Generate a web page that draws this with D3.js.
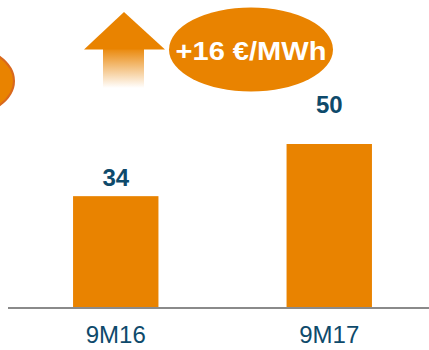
<!DOCTYPE html>
<html>
<head>
<meta charset="utf-8">
<script src="https://cdn.jsdelivr.net/npm/d3@7"></script>
<style>
  html, body { margin: 0; padding: 0; background: #fff; }
  svg { display: block; }
  text { font-family: Arial, "Liberation Sans", sans-serif; }
</style>
</head>
<body>
<svg id="chart" width="429" height="350"></svg>
<script>
// Average price per period (€/MWh)
const categories = ["9M16", "9M17"];
const values = [34, 50];
const deltaLabel = "+16 €/MWh";

const orange = "#e98300";
const navy = "#0e4a6b";

const svg = d3.select("#chart");

const x = d3.scaleBand()
  .domain(categories)
  .range([9, 436])
  .paddingInner(0.6)
  .paddingOuter(0.3);

const y = d3.scaleLinear()
  .domain([0, 50])
  .range([307, 144]);

// Bars
svg.append("g")
  .selectAll("rect")
  .data(values)
  .join("rect")
  .attr("x", (d, i) => x(categories[i]))
  .attr("width", x.bandwidth())
  .attr("y", d => y(d))
  .attr("height", d => y(0) - y(d))
  .attr("fill", orange);

// Baseline axis with category labels
const axis = svg.append("g")
  .attr("transform", `translate(0,${y(0) + 1})`)
  .call(d3.axisBottom(x).tickSize(0).tickSizeOuter(0).tickPadding(18));
axis.select(".domain").remove();
axis.insert("line", ":first-child")
  .attr("x1", 8).attr("x2", 429)
  .attr("stroke", "#8a8a8a").attr("stroke-width", 2);
axis.selectAll(".tick text")
  .attr("fill", navy)
  .style("font-size", "24px")
  .style("font-family", "Arial, 'Liberation Sans', sans-serif");

// Value labels above bars
const labelGap = [10, 31];
svg.append("g")
  .selectAll("text")
  .data(values)
  .join("text")
  .attr("x", (d, i) => x(categories[i]) + x.bandwidth() / 2)
  .attr("y", (d, i) => y(d) - labelGap[i])
  .attr("text-anchor", "middle")
  .attr("fill", navy)
  .style("font-size", "24px")
  .style("font-weight", "bold")
  .text(d => d);

// Partial bubble at the left edge
svg.append("ellipse")
  .attr("cx", -65).attr("cy", 81)
  .attr("rx", 79).attr("ry", 42)
  .attr("fill", orange)
  .attr("stroke", "#d8681e")
  .attr("stroke-width", 2);

// Upward arrow with fading shaft
const defs = svg.append("defs");
const grad = defs.append("linearGradient")
  .attr("id", "shaftFade")
  .attr("x1", 0).attr("y1", 0).attr("x2", 0).attr("y2", 1);
grad.append("stop").attr("offset", "0%").attr("stop-color", orange).attr("stop-opacity", 0.95);
grad.append("stop").attr("offset", "100%").attr("stop-color", orange).attr("stop-opacity", 0);

svg.append("rect")
  .attr("x", 103).attr("y", 49)
  .attr("width", 41).attr("height", 39)
  .attr("fill", "url(#shaftFade)");

svg.append("path")
  .attr("d", "M124,12 L165,49.5 L84,49.5 Z")
  .attr("fill", orange);

// Delta bubble
svg.append("ellipse")
  .attr("cx", 251).attr("cy", 49.5)
  .attr("rx", 82).attr("ry", 42)
  .attr("fill", orange);

svg.append("text")
  .attr("x", 251).attr("y", 59.5)
  .attr("text-anchor", "middle")
  .attr("fill", "#fff")
  .style("font-size", "25px")
  .style("font-weight", "bold")
  .attr("textLength", 151)
  .attr("lengthAdjust", "spacingAndGlyphs")
  .text(deltaLabel);
</script>
</body>
</html>
